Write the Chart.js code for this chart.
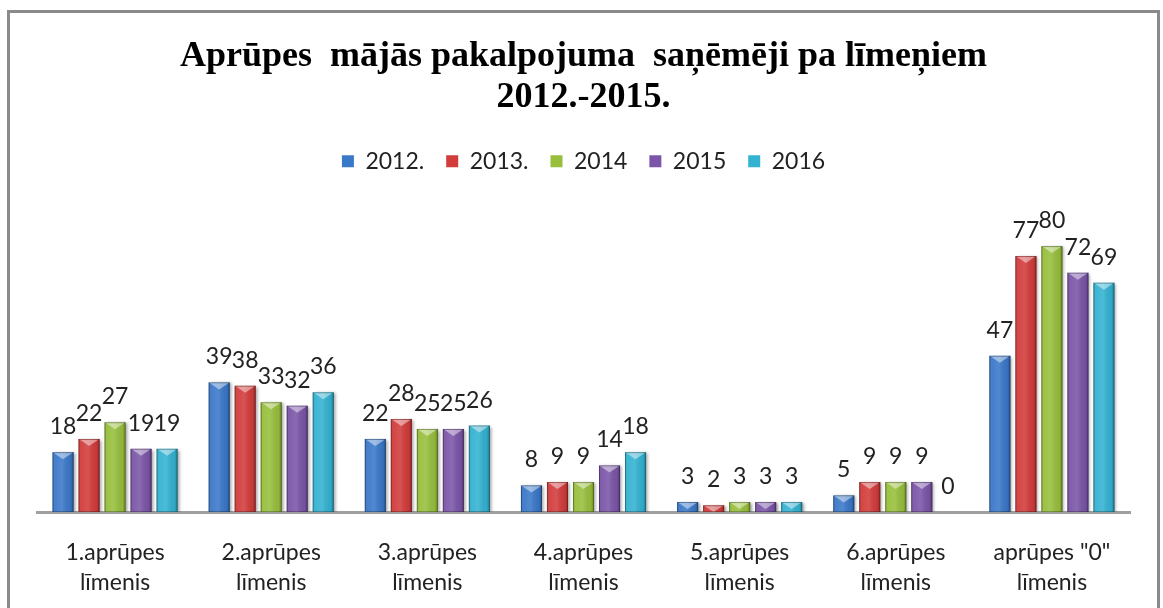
<!DOCTYPE html>
<html>
<head>
<meta charset="utf-8">
<script src="https://cdn.jsdelivr.net/npm/chart.js@4.4.0/dist/chart.umd.min.js"></script>
<style>
  html, body { margin: 0; padding: 0; background: #fff; overflow: hidden; }
  #wrap { position: relative; width: 1163px; height: 608px; }
  #frame { position: absolute; left: 7px; top: 10px; width: 1153px; height: 640px;
           border: 3px solid #8a8a8a; box-sizing: border-box; pointer-events: none; }
  canvas { position: absolute; left: 0; top: 0; }
</style>
</head>
<body>
<div id="wrap">
  <canvas id="chart" width="1163" height="608"></canvas>
  <div id="frame"></div>
</div>
<script>
const categories = [
  ['1.aprūpes', 'līmenis'],
  ['2.aprūpes', 'līmenis'],
  ['3.aprūpes', 'līmenis'],
  ['4.aprūpes', 'līmenis'],
  ['5.aprūpes', 'līmenis'],
  ['6.aprūpes', 'līmenis'],
  ['aprūpes "0"', 'līmenis']
]
const years = ['2012.', '2013.', '2014', '2015', '2016']
const v2012 = [18, 39, 22, 8, 3, 5, 47]
const v2013 = [22, 38, 28, 9, 2, 9, 77]
const v2014 = [27, 33, 25, 9, 3, 9, 80]
const v2015 = [19, 32, 25, 14, 3, 9, 72]
const v2016 = [19, 36, 26, 18, 3, 0, 69]
const colors = ['#3a78c9', '#d23c3b', '#97bf3c', '#7b55a8', '#33b2d2']

const font = 'Lato, "Open Sans", sans-serif'

// fixed legend block height so the plot area starts at the same place
const legendHeight = {
  id: 'legendHeight',
  beforeLayout(chart) {
    const lg = chart.legend
    if (!lg || lg._fixed) return
    const fit = lg.fit.bind(lg)
    lg.fit = function () { fit(); this.height = 52 }
    lg._fixed = true
  }
}

// shaded bars: side gradient, bevelled top triangle, soft shadow
const bevelBars = {
  id: 'bevelBars',
  beforeDatasetDraw(chart) {
    const ctx = chart.ctx
    ctx.save()
    ctx.shadowColor = 'rgba(0,0,0,0.35)'
    ctx.shadowOffsetX = 2
    ctx.shadowOffsetY = 1
    ctx.shadowBlur = 3
  },
  afterDatasetDraw(chart, args) {
    const ctx = chart.ctx
    ctx.restore()
    args.meta.data.forEach((bar) => {
      const h = bar.base - bar.y
      if (h <= 0) return
      const l = bar.x - bar.width / 2
      const r = bar.x + bar.width / 2
      ctx.save()
      const g = ctx.createLinearGradient(l, 0, r, 0)
      g.addColorStop(0, 'rgba(0,0,0,0.22)')
      g.addColorStop(0.12, 'rgba(255,255,255,0.05)')
      g.addColorStop(0.45, 'rgba(255,255,255,0.12)')
      g.addColorStop(0.85, 'rgba(0,0,0,0.05)')
      g.addColorStop(1, 'rgba(0,0,0,0.3)')
      ctx.fillStyle = g
      ctx.fillRect(l, bar.y, bar.width, h)
      // top bevel
      const th = Math.min(7, h)
      ctx.beginPath()
      ctx.moveTo(l + 1, bar.y + 0.5)
      ctx.lineTo(r - 1, bar.y + 0.5)
      ctx.lineTo(bar.x, bar.y + th)
      ctx.closePath()
      ctx.fillStyle = 'rgba(255,255,255,0.45)'
      ctx.fill()
      ctx.strokeStyle = 'rgba(0,0,0,0.25)'
      ctx.lineWidth = 1
      ctx.strokeRect(l + 0.5, bar.y + 0.5, bar.width - 1, h - 1)
      ctx.restore()
    })
  }
}

// value labels above each bar
const valueLabels = {
  id: 'valueLabels',
  afterDatasetsDraw(chart) {
    const ctx = chart.ctx
    ctx.save()
    ctx.font = '23px ' + font
    ctx.fillStyle = '#222'
    ctx.textAlign = 'center'
    ctx.textBaseline = 'alphabetic'
    chart.data.datasets.forEach((ds, i) => {
      chart.getDatasetMeta(i).data.forEach((bar, j) => {
        ctx.fillText(String(ds.data[j]), bar.x, bar.y - 18)
      })
    })
    ctx.restore()
  }
}

const datasets = [v2012, v2013, v2014, v2015, v2016].map((vals, i) => ({
  label: years[i],
  data: vals,
  backgroundColor: colors[i],
  borderWidth: 0,
  categoryPercentage: 0.833,
  barPercentage: 0.81
}))

new Chart(document.getElementById('chart'), {
  type: 'bar',
  data: { labels: categories, datasets: datasets },
  plugins: [legendHeight, bevelBars, valueLabels],
  options: {
    responsive: false,
    animation: false,
    layout: { padding: { left: 37, right: 33, top: 0, bottom: 0 } },
    plugins: {
      title: {
        display: true,
        text: ['Aprūpes  mājās pakalpojuma  saņēmēji pa līmeņiem', '2012.-2015.'],
        font: { family: '"Liberation Serif", "Times New Roman", serif', size: 36, weight: 'bold', lineHeight: 1.12 },
        color: '#000',
        padding: { top: 37, bottom: 10 }
      },
      legend: {
        position: 'top',
        labels: {
          font: { family: font, size: 23 },
          color: '#222',
          boxWidth: 12,
          boxHeight: 12,
          padding: 22
        }
      },
      tooltip: { enabled: false }
    },
    scales: {
      x: {
        grid: { display: false },
        border: { display: true, color: '#a0a0a0', width: 3 },
        ticks: {
          font: { family: font, size: 23, lineHeight: 1.28 },
          color: '#222',
          padding: 18,
          maxRotation: 0,
          autoSkip: false
        },
        afterFit: (scale) => { scale.height = 96 }
      },
      y: {
        display: false,
        min: 0,
        max: 100
      }
    }
  }
})
</script>
</body>
</html>
